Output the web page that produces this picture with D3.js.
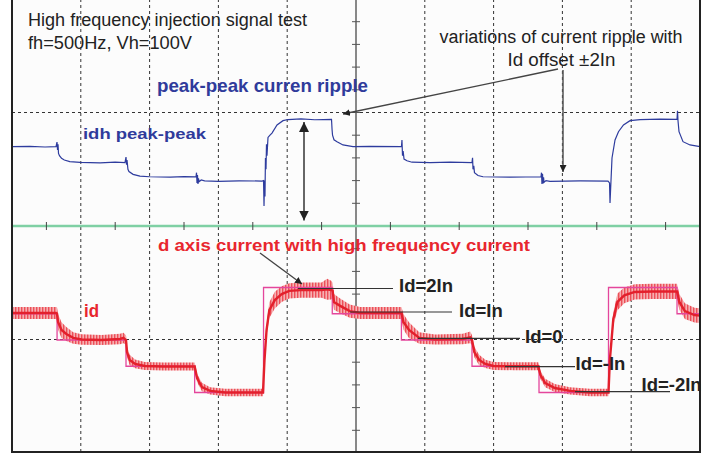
<!DOCTYPE html>
<html>
<head>
<meta charset="utf-8">
<script src="https://cdn.jsdelivr.net/npm/d3@7"></script>
<style>
body { margin: 0; background: #fff; }
svg { display: block; font-family: "Liberation Sans", Arial, sans-serif; }
</style>
</head>
<body>
<div id="scope"></div>
<script>
// screen divisions: 10 across (time), 4 down
var xDivs = [0, 1, 2, 3, 4, 5, 6, 7, 8, 9, 10];
var yDivs = [-2, -1, 0, 1, 2];

// idh peak-peak trace: [time (div), amplitude (div above centre line)]
var idhTrace = [
  [0, 0.699], [0.26, 0.702], [0.48, 0.696], [0.64, 0.699], [0.654, 0.74], [0.662, 0.67], [0.669, 0.72],
  [0.676, 0.64], [0.69, 0.62], [0.72, 0.596], [0.76, 0.581], [0.84, 0.568], [0.99, 0.561], [1.28, 0.557],
  [1.5, 0.562], [1.642, 0.559], [1.657, 0.608], [1.665, 0.54], [1.672, 0.58], [1.685, 0.5], [1.70, 0.48],
  [1.76, 0.455], [1.86, 0.44], [2.0, 0.434], [2.3, 0.43], [2.5, 0.435], [2.674, 0.432], [2.682, 0.47],
  [2.689, 0.38], [2.696, 0.45], [2.703, 0.37], [2.71, 0.42], [2.72, 0.39], [2.75, 0.405], [2.80, 0.397],
  [3.0, 0.393], [3.3, 0.398], [3.634, 0.396], [3.656, 0.40], [3.663, 0.176], [3.670, 0.40], [3.677, 0.26],
  [3.684, 0.60], [3.692, 0.50], [3.699, 0.72], [3.706, 0.62], [3.721, 0.78], [3.75, 0.80], [3.779, 0.819],
  [3.852, 0.89], [3.939, 0.928], [4.012, 0.938], [4.2, 0.943], [4.4, 0.936], [4.644, 0.94], [4.652, 0.85],
  [4.659, 0.80], [4.68, 0.76], [4.724, 0.743], [4.811, 0.714], [4.956, 0.699], [5.2, 0.702], [5.661, 0.70],
  [5.668, 0.758], [5.676, 0.62], [5.685, 0.66], [5.698, 0.59], [5.741, 0.575], [5.814, 0.562], [6.08, 0.559],
  [6.37, 0.563], [6.686, 0.559], [6.694, 0.60], [6.701, 0.50], [6.712, 0.53], [6.722, 0.47], [6.773, 0.445],
  [6.846, 0.434], [7.24, 0.431], [7.689, 0.434], [7.696, 0.47], [7.703, 0.37], [7.711, 0.46], [7.718, 0.375],
  [7.726, 0.43], [7.733, 0.385], [7.762, 0.40], [7.82, 0.394], [8.26, 0.397], [8.663, 0.396], [8.685, 0.38],
  [8.692, 0.203], [8.699, 0.30], [8.721, 0.599], [8.765, 0.758], [8.815, 0.831], [8.888, 0.89], [8.983, 0.928],
  [9.13, 0.938], [9.42, 0.941], [9.666, 0.94], [9.673, 1.016], [9.68, 0.93], [9.695, 0.831], [9.753, 0.743],
  [9.855, 0.714], [10, 0.699]
];

// id with high frequency current: [time (div), mean (In), half ripple (In)]
var idTrace = [
  [0, 1.03, 0.23], [0.64, 1.03, 0.23], [0.654, 1.0, 0.25], [0.669, 0.69, 0.3], [0.72, 0.38, 0.3],
  [0.79, 0.23, 0.27], [0.89, 0.08, 0.22], [1.01, 0.02, 0.2], [1.3, 0.0, 0.19], [1.57, 0.04, 0.2],
  [1.62, 0.08, 0.2], [1.657, 0.0, 0.18], [1.672, -0.46, 0.2], [1.71, -0.76, 0.2], [1.79, -0.91, 0.17],
  [1.93, -0.99, 0.15], [2.2, -1.01, 0.15], [2.655, -1.01, 0.15], [2.69, -1.45, 0.16], [2.76, -1.79, 0.16],
  [2.88, -1.94, 0.14], [3.1, -2.0, 0.14], [3.648, -2.0, 0.14], [3.67, -0.76, 0.1], [3.70, 0.38, 0.2],
  [3.74, 1.14, 0.3], [3.82, 1.52, 0.32], [3.92, 1.75, 0.3], [4.03, 1.87, 0.29], [4.2, 1.9, 0.29],
  [4.5, 1.9, 0.29], [4.58, 1.93, 0.4], [4.64, 1.9, 0.36], [4.66, 1.88, 0.3], [4.68, 1.45, 0.3],
  [4.77, 1.30, 0.28], [4.91, 1.10, 0.25], [5.06, 1.03, 0.23], [5.4, 1.03, 0.23], [5.66, 1.03, 0.23],
  [5.69, 0.69, 0.3], [5.77, 0.38, 0.3], [5.92, 0.08, 0.22], [6.15, 0.02, 0.19], [6.55, 0.04, 0.2],
  [6.66, 0.1, 0.22], [6.686, 0.0, 0.18], [6.72, -0.46, 0.2], [6.79, -0.76, 0.2], [6.88, -0.91, 0.16],
  [7.0, -0.99, 0.15], [7.3, -1.0, 0.15], [7.65, -1.0, 0.15], [7.68, -1.33, 0.16], [7.75, -1.64, 0.16],
  [7.89, -1.83, 0.15], [8.11, -1.94, 0.14], [8.4, -2.0, 0.14], [8.67, -2.0, 0.14], [8.69, -0.76, 0.1],
  [8.74, 0.8, 0.25], [8.80, 1.45, 0.32], [8.9, 1.70, 0.3], [9.05, 1.83, 0.29], [9.3, 1.85, 0.29],
  [9.666, 1.85, 0.29], [9.70, 1.45, 0.3], [9.78, 1.1, 0.3], [9.92, 0.95, 0.28], [10, 0.93, 0.28]
];

// id reference (step changes): [time (div), level (In)]
var idRef = [
  [0, 1], [0.655, 0], [1.657, -1], [2.655, -2], [3.656, 2], [4.655, 1],
  [5.66, 0], [6.686, -1], [7.66, -2], [8.67, 2], [9.666, 1], [10, 1]
];

// labels of the id levels
var idLabels = ["Id=2In", "Id=In", "Id=0", "Id=-In", "Id=-2In"];

var width = 724, height = 455;

var svg = d3.select("#scope")
  .append("svg")
    .attr("width", width)
    .attr("height", height);

var x = d3.scaleLinear().domain([0, 10]).range([12, 700]);
var yDiv = d3.scaleLinear().domain([-2, 2]).range([453, -1]);
var yId = d3.scaleLinear().domain([-2, 2]).range([392.5, 287.5]);

var defs = svg.append("defs");
var pat = defs.append("pattern")
    .attr("id", "ripple")
    .attr("patternUnits", "userSpaceOnUse")
    .attr("width", 3).attr("height", 10);
pat.append("rect").attr("width", 3).attr("height", 10).attr("fill", "#f6b0b2");
pat.append("rect").attr("width", 1.4).attr("height", 10).attr("fill", "#ec4f58");

defs.append("marker")
    .attr("id", "arr")
    .attr("viewBox", "0 0 10 10")
    .attr("refX", 10).attr("refY", 5)
    .attr("markerWidth", 7).attr("markerHeight", 7)
    .attr("markerUnits", "userSpaceOnUse")
    .attr("orient", "auto-start-reverse")
  .append("path")
    .attr("d", "M0,0 L10,5 L0,10 z")
    .attr("fill", "#222");
defs.append("marker")
    .attr("id", "arrBig")
    .attr("viewBox", "0 0 10 10")
    .attr("refX", 10).attr("refY", 5)
    .attr("markerWidth", 10).attr("markerHeight", 10)
    .attr("markerUnits", "userSpaceOnUse")
    .attr("orient", "auto-start-reverse")
  .append("path")
    .attr("d", "M0,0 L10,5 L0,10 z")
    .attr("fill", "#222");

// screen background
svg.append("rect")
    .attr("x", x(0)).attr("y", yDiv(2))
    .attr("width", x(10) - x(0)).attr("height", yDiv(-2) - yDiv(2))
    .attr("fill", "#fcfcfc");

// dashed grid
svg.append("g").selectAll("line")
  .data(xDivs.filter(function (d) { return d > 0 && d < 10 && d != 5; }))
  .enter().append("line")
    .attr("x1", function (d) { return x(d); }).attr("x2", function (d) { return x(d); })
    .attr("y1", yDiv(2)).attr("y2", yDiv(-2))
    .attr("stroke", "#333").attr("stroke-width", 1).attr("stroke-dasharray", "3,3");
svg.append("g").selectAll("line")
  .data(yDivs.filter(function (d) { return d == 1 || d == -1; }))
  .enter().append("line")
    .attr("x1", x(0)).attr("x2", x(10))
    .attr("y1", function (d) { return yDiv(d); }).attr("y2", function (d) { return yDiv(d); })
    .attr("stroke", "#333").attr("stroke-width", 1).attr("stroke-dasharray", "3,3");

// centre axes with minor ticks
svg.append("line")
    .attr("x1", x(5)).attr("x2", x(5)).attr("y1", yDiv(2)).attr("y2", yDiv(-2))
    .attr("stroke", "#888").attr("stroke-width", 2);
svg.append("g").selectAll("line")
  .data(d3.range(-1.8, 2, 0.2))
  .enter().append("line")
    .attr("x1", x(5) - 4).attr("x2", x(5) + 4)
    .attr("y1", function (d) { return yDiv(d); }).attr("y2", function (d) { return yDiv(d); })
    .attr("stroke", "#555").attr("stroke-width", 1);
svg.append("line")
    .attr("x1", x(0)).attr("x2", x(10)).attr("y1", yDiv(0)).attr("y2", yDiv(0))
    .attr("stroke", "#7fd0a4").attr("stroke-width", 2.5);
svg.append("g").selectAll("line")
  .data(d3.range(0.5, 10, 1))
  .enter().append("line")
    .attr("x1", function (d) { return x(d); }).attr("x2", function (d) { return x(d); })
    .attr("y1", yDiv(0) - 4).attr("y2", yDiv(0) + 4)
    .attr("stroke", "#444").attr("stroke-width", 1);

// idh trace
svg.append("path")
    .datum(idhTrace)
    .attr("d", d3.line().x(function (d) { return x(d[0]); }).y(function (d) { return yDiv(d[1]); }))
    .attr("fill", "none").attr("stroke", "#2e3c9e").attr("stroke-width", 1.2);

// id ripple band
svg.append("path")
    .datum(idTrace)
    .attr("d", d3.area()
      .x(function (d) { return x(d[0]); })
      .y0(function (d) { return yId(d[1] - d[2]); })
      .y1(function (d) { return yId(d[1] + d[2]); }))
    .attr("fill", "url(#ripple)");

// id reference steps
svg.append("path")
    .datum(idRef)
    .attr("d", d3.line().curve(d3.curveStepAfter).x(function (d) { return x(d[0]); }).y(function (d) { return yId(d[1]); }))
    .attr("fill", "none").attr("stroke", "#e4469c").attr("stroke-width", 1.3);

// id mean
svg.append("path")
    .datum(idTrace)
    .attr("d", d3.line().x(function (d) { return x(d[0]); }).y(function (d) { return yId(d[1]); }))
    .attr("fill", "none").attr("stroke", "#e3202c").attr("stroke-width", 2.4);

// frame
svg.append("path")
    .attr("d", "M" + x(0) + "," + yDiv(2) + "V" + (yDiv(-2) - 1) + "H" + x(10) + "V" + yDiv(2))
    .attr("fill", "none").attr("stroke", "#222").attr("stroke-width", 2);

// level leaders and labels
var leaders = [[298, 393, 288.5], [350, 452, 312], [418, 520, 338.3], [505, 575, 366.7], [575, 670, 391.7]];
svg.append("g").selectAll("line")
  .data(leaders)
  .enter().append("line")
    .attr("x1", function (d) { return d[0]; }).attr("x2", function (d) { return d[1]; })
    .attr("y1", function (d) { return d[2]; }).attr("y2", function (d) { return d[2]; })
    .attr("stroke", "#333").attr("stroke-width", 1.2);
var labelPos = [[399, 291.7], [459, 316.7], [525, 343], [575.5, 370], [641.5, 390.5]];
svg.append("g").selectAll("text")
  .data(idLabels)
  .enter().append("text")
    .attr("x", function (d, i) { return labelPos[i][0]; })
    .attr("y", function (d, i) { return labelPos[i][1]; })
    .attr("font-size", 18.5).attr("font-weight", "bold").attr("fill", "#222")
    .text(function (d) { return d; });

// annotations
function label(txt, px, py, size, weight, color, len, anchor) {
  var t = svg.append("text")
    .attr("x", px).attr("y", py)
    .attr("font-size", size).attr("font-weight", weight).attr("fill", color)
    .attr("text-anchor", anchor || "start")
    .text(txt);
  if (len) t.attr("textLength", len).attr("lengthAdjust", "spacingAndGlyphs");
}
label("High frequency injection signal test", 28, 26, 18, "normal", "#222", 279);
label("fh=500Hz, Vh=100V", 28, 49, 18, "normal", "#222", 164);
label("variations of current ripple with", 561, 42.5, 18, "normal", "#222", 243, "middle");
label("Id offset \u00b12In", 561.5, 66, 18, "normal", "#222", 108, "middle");
label("peak-peak curren ripple", 157, 91.5, 18.5, "bold", "#2f3b9b", 211);
label("idh peak-peak", 83, 138.7, 15, "bold", "#2f3b9b", 123);
label("d axis current with high frequency current", 158, 250.5, 16.5, "bold", "#e8262e", 372);
label("id", 84, 316.7, 19, "bold", "#e8262e", 15);

svg.append("line")
    .attr("x1", 558).attr("y1", 69).attr("x2", 343).attr("y2", 114)
    .attr("stroke", "#444").attr("stroke-width", 1.3).attr("marker-end", "url(#arr)");
svg.append("line")
    .attr("x1", 563).attr("y1", 70).attr("x2", 563).attr("y2", 172)
    .attr("stroke", "#555").attr("stroke-width", 1.5).attr("marker-end", "url(#arr)");
svg.append("line")
    .attr("x1", 304).attr("y1", 122).attr("x2", 304).attr("y2", 220.5)
    .attr("stroke", "#666").attr("stroke-width", 2)
    .attr("marker-start", "url(#arrBig)").attr("marker-end", "url(#arrBig)");
svg.append("line")
    .attr("x1", 260).attr("y1", 253).attr("x2", 302).attr("y2", 284)
    .attr("stroke", "#444").attr("stroke-width", 1.3).attr("marker-end", "url(#arr)");
</script>
</body>
</html>
